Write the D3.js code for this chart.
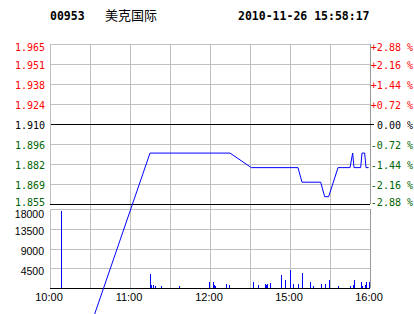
<!DOCTYPE html>
<html>
<head>
<meta charset="utf-8">
<script src="https://cdn.jsdelivr.net/npm/d3@7"></script>
<style>
body { margin: 0; background: #fff; }
.grid line { stroke: #c0c0c0; shape-rendering: crispEdges; }
.axis path, .axis line { display: none; }
.mono { font-family: "DejaVu Sans Mono", monospace; font-size: 10px; }
.sans { font-family: "Liberation Sans", Arial, sans-serif; }
</style>
</head>
<body>
<svg id="chart" width="414" height="314"></svg>
<script>
// header
var stockCode = "00953";
var stockName = "美克国际";
var stamp = "2010-11-26 15:58:17";

// price axis
var prevClose = 1.910;
var pctTicks = [2.88, 2.16, 1.44, 0.72, 0, -0.72, -1.44, -2.16, -2.88];
var priceLabels = ["1.965", "1.951", "1.938", "1.924", "1.910", "1.896", "1.882", "1.869", "1.855"];
var pctLabels = ["+2.88 %", "+2.16 %", "+1.44 %", "+0.72 %", "0.00 %", "-0.72 %", "-1.44 %", "-2.16 %", "-2.88 %"];

// time axis (trading minutes from 10:00)
var timeTicks = [0, 60, 120, 180, 240];
var timeLabels = ["10:00", "11:00", "12:00", "15:00", "16:00"];
var gridMinutes = [30, 60, 90, 120, 150, 180, 210];

// price line
var priceMinutes = [0, 75, 135, 151, 186, 189, 203, 206, 209, 216, 225, 227, 228, 233, 234, 236, 237, 239];
var prices = [1.69, 1.89, 1.89, 1.88, 1.88, 1.87, 1.87, 1.86, 1.86, 1.88, 1.88, 1.89, 1.88, 1.88, 1.89, 1.89, 1.88, 1.88];

// volume
var volTicks = [4500, 9000, 13500, 18000];
var volMinutes = [8, 75, 76, 77, 79, 83, 97, 119, 122, 123, 124, 132, 134, 152, 156, 161, 162, 163, 165, 173, 176, 180, 182, 186, 189, 195, 197, 203, 206, 209, 216, 225, 227, 228, 233, 234, 236, 237, 239];
var volumes = [17500, 3200, 700, 700, 500, 500, 500, 1270, 1270, 750, 520, 820, 590, 1270, 590, 820, 590, 820, 1050, 2860, 1720, 4150, 980, 980, 3320, 1270, 520, 980, 980, 1880, 520, 520, 750, 1880, 1270, 520, 750, 1400, 1270];

var left = 50, right = 370;
var priceTop = 44, priceBottom = 204;
var volTop = 209, volBottom = 288;

var svg = d3.select("#chart");

var x = d3.scaleLinear().domain([0, 240]).range([left, right]);
var yPct = d3.scaleLinear().domain([-2.88, 2.88]).range([priceBottom, priceTop]);
var yPrice = d3.scaleLinear()
    .domain([prevClose * (1 - 0.0288), prevClose * (1 + 0.0288)])
    .range([priceBottom, priceTop]);
var yVol = d3.scaleLinear().domain([0, 18000]).range([volBottom, volTop]);

var green = "#006400";
function pctColor(v) { return v > 0 ? "#ff0000" : (v < 0 ? green : "#000"); }

// vertical grid through both panels
svg.append("g").attr("class", "grid")
    .selectAll("line").data(gridMinutes).enter().append("line")
    .attr("x1", function(d) { return Math.round(x(d)) + 0.5; })
    .attr("x2", function(d) { return Math.round(x(d)) + 0.5; })
    .attr("y1", priceTop).attr("y2", volBottom);

// horizontal grid price panel
svg.append("g").attr("class", "grid")
    .selectAll("line").data(pctTicks).enter().append("line")
    .attr("x1", left).attr("x2", right)
    .attr("y1", function(d) { return Math.round(yPct(d)) + 0.5; })
    .attr("y2", function(d) { return Math.round(yPct(d)) + 0.5; })
    .style("stroke", function(d) { return (d === 0 || d === -2.88) ? "#000" : "#c0c0c0"; });

// horizontal grid volume panel
svg.append("g").attr("class", "grid")
    .selectAll("line").data(volTicks.concat([0])).enter().append("line")
    .attr("x1", left).attr("x2", right)
    .attr("y1", function(d) { return Math.round(yVol(d)) + 0.5; })
    .attr("y2", function(d) { return Math.round(yVol(d)) + 0.5; })
    .style("stroke", function(d) { return d === 0 ? "#000" : "#c0c0c0"; });

// panel edges
var edges = [[priceTop, priceBottom], [volTop, volBottom]];
[left, right].forEach(function(ex) {
    svg.append("g").attr("class", "grid").selectAll("line").data(edges).enter().append("line")
        .attr("x1", ex + 0.5).attr("x2", ex + 0.5)
        .attr("y1", function(d) { return d[0]; })
        .attr("y2", function(d) { return d[1]; })
        .style("stroke", ex === right ? "#999" : "#c0c0c0");
});
// small tick at prev close
svg.append("line").attr("x1", right).attr("x2", right + 4)
    .attr("y1", Math.round(yPct(0)) + 0.5).attr("y2", Math.round(yPct(0)) + 0.5)
    .style("stroke", "#000").style("shape-rendering", "crispEdges");

// left price axis
var gL = svg.append("g").attr("class", "axis mono")
    .attr("transform", "translate(" + (left - 5) + ",0)")
    .call(d3.axisLeft(yPct).tickValues(pctTicks).tickSize(0).tickPadding(0)
        .tickFormat(function(d, i) { return priceLabels[i]; }));
gL.selectAll("text")
    .attr("font-family", null).attr("font-size", null)
    .attr("dy", function(d, i) { return i === 0 ? "0.6em" : (i === pctTicks.length - 1 ? "0.1em" : "0.4em"); })
    .style("fill", function(d) { return pctColor(d); });

// right percent axis
var gR = svg.append("g").attr("class", "axis mono")
    .attr("transform", "translate(413,0)")
    .call(d3.axisLeft(yPct).tickValues(pctTicks).tickSize(0).tickPadding(0)
        .tickFormat(function(d, i) { return pctLabels[i]; }));
gR.selectAll("text")
    .attr("font-family", null).attr("font-size", null)
    .attr("dy", function(d, i) { return i === 0 ? "0.6em" : (i === pctTicks.length - 1 ? "0.1em" : "0.4em"); })
    .style("fill", function(d) { return pctColor(d); });

// volume axis
var gV = svg.append("g").attr("class", "axis sans")
    .attr("transform", "translate(" + (left - 6) + ",0)")
    .call(d3.axisLeft(yVol).tickValues(volTicks).tickSize(0).tickPadding(0)
        .tickFormat(d3.format("d")));
gV.selectAll("text")
    .attr("font-family", null).attr("font-size", "10.5px")
    .attr("dy", function(d) { return d === 18000 ? "0.85em" : "0.55em"; })
    .style("fill", "#000");

// time axis
var gX = svg.append("g").attr("class", "axis sans")
    .attr("transform", "translate(-1.5," + volBottom + ")")
    .call(d3.axisBottom(x).tickValues(timeTicks).tickSize(0).tickPadding(5)
        .tickFormat(function(d, i) { return timeLabels[i]; }));
gX.selectAll("text")
    .attr("font-family", null).attr("font-size", "11px")
    .style("fill", "#000");

// volume bars
svg.append("g").selectAll("rect")
    .data(volumes).enter().append("rect")
    .attr("x", function(d, i) { return Math.round(x(volMinutes[i])); })
    .attr("width", 1)
    .attr("y", function(d) { return yVol(d); })
    .attr("height", function(d) { return volBottom - yVol(d); })
    .style("fill", "#0000ff")
    .style("shape-rendering", "crispEdges");

// price line
var line = d3.line()
    .x(function(d, i) { return x(priceMinutes[i]); })
    .y(function(d) { return yPrice(d); });
svg.append("path")
    .datum(prices)
    .attr("d", line)
    .style("fill", "none")
    .style("stroke", "#0000ff")
    .style("stroke-width", 1);

// header
var head = svg.append("g").style("font-weight", "bold").style("fill", "#000");
head.append("text").attr("x", 50).attr("y", 20)
    .style("font-family", "'DejaVu Sans Mono', monospace").style("font-size", "11.5px")
    .text(stockCode);
head.append("text").attr("x", 105).attr("y", 20)
    .style("font-family", "'Noto Sans CJK SC', sans-serif").style("font-size", "13px")
    .style("font-weight", "normal")
    .text(stockName);
head.append("text").attr("x", 238).attr("y", 20)
    .style("font-family", "'DejaVu Sans Mono', monospace").style("font-size", "11.5px")
    .text(stamp);
</script>
</body>
</html>
